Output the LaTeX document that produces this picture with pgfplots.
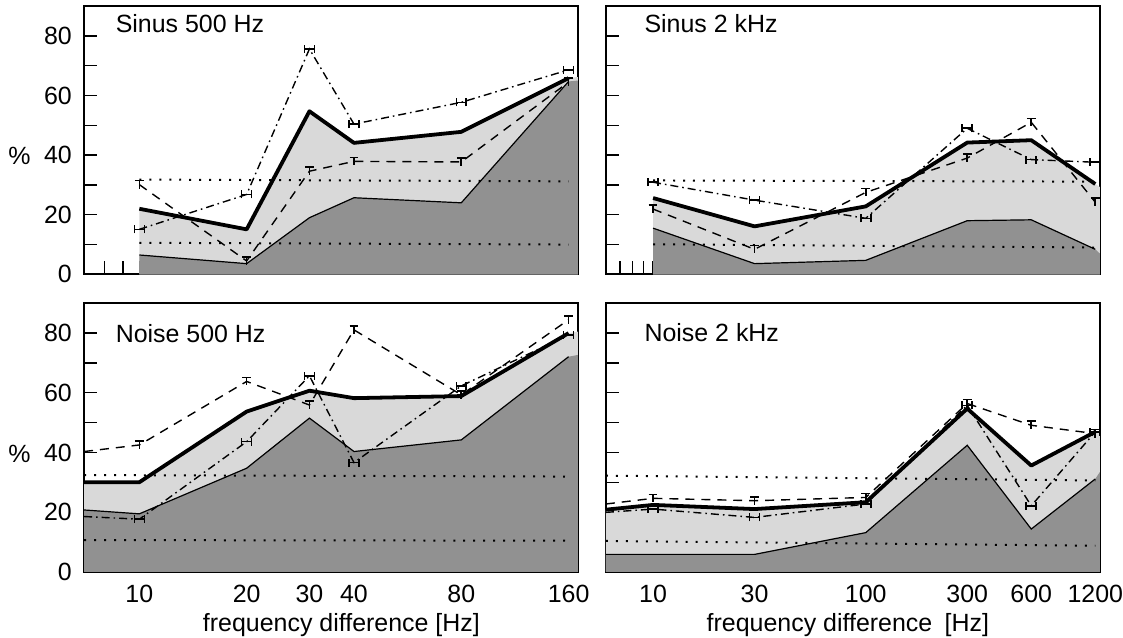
\documentclass[border=0pt]{standalone}
\usepackage{fontspec}
\setmainfont{Liberation Sans}
\usepackage{pgfplots}
\pgfplotsset{compat=1.18}

\definecolor{darkfill}{RGB}{145,145,145}
\definecolor{lightfill}{RGB}{217,217,217}

% error-bar like markers of the original figure
\pgfdeclareplotmark{hbar}{%
  \pgfpathmoveto{\pgfqpoint{-2.5pt}{0pt}}\pgfpathlineto{\pgfqpoint{2.5pt}{0pt}}%
  \pgfpathmoveto{\pgfqpoint{-2.5pt}{-2pt}}\pgfpathlineto{\pgfqpoint{-2.5pt}{2pt}}%
  \pgfpathmoveto{\pgfqpoint{2.5pt}{-2pt}}\pgfpathlineto{\pgfqpoint{2.5pt}{2pt}}%
  \pgfusepathqstroke}
\pgfdeclareplotmark{tbar}{%
  \pgfpathmoveto{\pgfqpoint{-2.2pt}{2pt}}\pgfpathlineto{\pgfqpoint{2.2pt}{2pt}}%
  \pgfpathmoveto{\pgfqpoint{0pt}{2pt}}\pgfpathlineto{\pgfqpoint{0pt}{-2pt}}%
  \pgfusepathqstroke}

\pgfplotsset{
  every axis/.append style={
    scale only axis, width=247.5pt, height=134.5pt,
    anchor=south west,
    ymin=0, ymax=90, ytick={0,10,...,80},
    tick align=inside, xtick pos=bottom, ytick pos=left,
    major tick length=6.5pt, minor tick length=6.5pt,
    tick style={black, line width=0.7pt},
    axis line style={line width=0.9pt},
    xticklabel style={anchor=base, inner sep=0pt, yshift=-15.5pt},
    yticklabel style={xshift=-1.8pt},
  },
  leftx/.style={xmin=7, xmax=170,
    xtick={10,20,30,40,80,160}, minor xtick={8,9,50,60,70,90,100}},
  rightx/.style={xmin=6, xmax=1260,
    xtick={10,30,100,300,600,1200},
    minor xtick={7,8,9,20,40,50,60,70,80,90,200,400,500,700,800,900,1000}},
  lightarea/.style={fill=lightfill, draw=none},
  darkarea/.style={fill=darkfill, draw=none},
  thickline/.style={black, line width=1.9pt, line join=round},
  thinline/.style={black, line width=0.6pt},
  tline/.style={black, line width=0.7pt, dash pattern=on 4.5pt off 3.5pt,
    mark=tbar, mark options={solid, line width=0.8pt}},
  hline/.style={black, line width=0.7pt, dash pattern=on 4pt off 2pt on 0.8pt off 2pt,
    mark=hbar, mark options={solid, line width=0.8pt}},
  dotline/.style={black, line width=1pt, dash pattern=on 1pt off 4pt},
}

\begin{document}
\fontsize{12.5}{15}\selectfont
\begin{tikzpicture}
\path (0,0) rectangle (561.5pt,319.5pt);

% ---------------- Sinus 500 Hz
\begin{semilogxaxis}[leftx, at={(41pt,182pt)},
  xticklabels={}, yticklabels={0,,20,,40,,60,,80},
  ylabel={\%}, ylabel style={rotate=-90, at={(axis description cs:-0.131,0.44)}, anchor=center}]
\addplot[lightarea] coordinates {(10,22.0)(20,15.1)(30,54.7)(40,44.1)(80,47.8)(160,65.8)(170,66.2)} \closedcycle;
\addplot[darkarea] coordinates {(10,6.5)(20,3.6)(30,19.0)(40,25.7)(80,24.0)(160,64.7)(170,65.0)} \closedcycle;
\addplot[dotline] coordinates {(10,31.8)(160,31.2)};
\addplot[dotline] coordinates {(10,10.6)(160,10.0)};
\addplot[thinline] coordinates {(10,6.5)(20,3.6)(30,19.0)(40,25.7)(80,24.0)(160,64.7)};
\addplot[thickline] coordinates {(10,22.0)(20,15.1)(30,54.7)(40,44.1)(80,47.8)(160,65.8)};
\addplot[tline] coordinates {(10,30.1)(20,4.5)(30,34.6)(40,37.9)(80,37.7)(160,64.5)};
\addplot[hline] coordinates {(10,15.1)(20,26.8)(30,75.6)(40,50.4)(80,57.7)(160,68.6)};
\node[anchor=base west, xshift=11.5pt, yshift=-13.5pt] at (rel axis cs:0,1) {Sinus 500 Hz};
\end{semilogxaxis}

% ---------------- Sinus 2 kHz
\begin{semilogxaxis}[rightx, at={(302.5pt,182pt)},
  xticklabels={}, yticklabels={}]
\addplot[lightarea] coordinates {(10,25.6)(30,16.1)(100,22.8)(300,44.2)(600,45.0)(1200,30.3)(1260,29.3)} \closedcycle;
\addplot[darkarea] coordinates {(10,15.5)(30,3.6)(100,4.7)(300,18.0)(600,18.3)(1200,8.4)(1260,7.0)} \closedcycle;
\addplot[dotline] coordinates {(10,31.5)(1200,31.1)};
\addplot[dotline] coordinates {(10,10.1)(1200,9.0)};
\addplot[thinline] coordinates {(10,15.5)(30,3.6)(100,4.7)(300,18.0)(600,18.3)(1200,8.4)};
\addplot[thickline] coordinates {(10,25.6)(30,16.1)(100,22.8)(300,44.2)(600,45.0)(1200,30.3)};
\addplot[tline] coordinates {(10,21.9)(30,8.4)(100,27.5)(300,39.0)(600,51.0)(1200,24.2)};
\addplot[hline] coordinates {(10,30.9)(30,24.9)(100,18.8)(300,49.0)(600,38.5)(1200,37.6)};
\node[anchor=base west, xshift=15pt, yshift=-13.5pt] at (rel axis cs:0,1) {Sinus 2 kHz};
\end{semilogxaxis}

% ---------------- Noise 500 Hz
\begin{semilogxaxis}[leftx, at={(41pt,33pt)},
  xticklabels={10,20,30,40,80,160}, yticklabels={0,,20,,40,,60,,80},
  ylabel={\%}, ylabel style={rotate=-90, at={(axis description cs:-0.131,0.44)}, anchor=center},
  xlabel={frequency difference [Hz]},
  xlabel style={anchor=base, inner sep=0pt, at={(axis description cs:0.521,0)}, yshift=-30pt}]
\addplot[lightarea] coordinates {(7,30.0)(10,30.0)(20,53.7)(30,60.7)(40,58.2)(80,58.9)(160,80.0)(170,80.5)} \closedcycle;
\addplot[darkarea] coordinates {(7,20.7)(10,19.4)(20,34.7)(30,51.5)(40,40.3)(80,44.2)(160,72.1)(170,72.7)} \closedcycle;
\addplot[dotline] coordinates {(7,32.4)(160,31.9)};
\addplot[dotline] coordinates {(7,10.6)(160,10.4)};
\addplot[thinline] coordinates {(7,20.7)(10,19.4)(20,34.7)(30,51.5)(40,40.3)(80,44.2)(160,72.1)};
\addplot[thickline] coordinates {(7,30.0)(10,30.0)(20,53.7)(30,60.7)(40,58.2)(80,58.9)(160,80.0)};
\addplot[tline, mark indices={2,...,7}] coordinates {(7,40.3)(10,42.5)(20,63.8)(30,55.9)(40,81.1)(80,59.3)(160,84.5)};
\addplot[hline, mark indices={2,...,7}] coordinates {(7,18.5)(10,17.6)(20,43.6)(30,65.7)(40,36.6)(80,62.3)(160,79.4)};
\node[anchor=base west, xshift=11.5pt, yshift=-19.5pt] at (rel axis cs:0,1) {Noise 500 Hz};
\end{semilogxaxis}

% ---------------- Noise 2 kHz
\begin{semilogxaxis}[rightx, at={(302.5pt,33pt)},
  xticklabels={10,30,100,300,600,1200}, yticklabels={},
  xlabel={frequency difference\enspace[Hz]},
  xlabel style={anchor=base, inner sep=0pt, at={(axis description cs:0.49,0)}, yshift=-30pt}]
\addplot[lightarea] coordinates {(6,20.8)(10,22.4)(30,21.0)(100,23.3)(300,54.7)(600,35.6)(1200,46.9)(1260,47.4)} \closedcycle;
\addplot[darkarea] coordinates {(6,5.8)(10,5.8)(30,5.8)(100,13.1)(300,42.4)(600,14.3)(1200,31.1)(1260,33.4)} \closedcycle;
\addplot[dotline] coordinates {(6,32.2)(1200,30.6)};
\addplot[dotline] coordinates {(6,10.3)(1200,8.7)};
\addplot[thinline] coordinates {(6,5.8)(10,5.8)(30,5.8)(100,13.1)(300,42.4)(600,14.3)(1200,31.1)};
\addplot[thickline] coordinates {(6,20.8)(10,22.4)(30,21.0)(100,23.3)(300,54.7)(600,35.6)(1200,46.9)};
\addplot[tline, mark indices={2,...,7}] coordinates {(6,22.7)(10,24.6)(30,23.8)(100,24.9)(300,56.4)(600,49.1)(1200,46.3)};
\addplot[hline, mark indices={2,...,7}] coordinates {(6,19.9)(10,21.0)(30,18.2)(100,22.7)(300,55.8)(600,22.1)(1200,46.9)};
\node[anchor=base west, xshift=15pt, yshift=-19pt] at (rel axis cs:0,1) {Noise 2 kHz};
\end{semilogxaxis}
\end{tikzpicture}
\end{document}
